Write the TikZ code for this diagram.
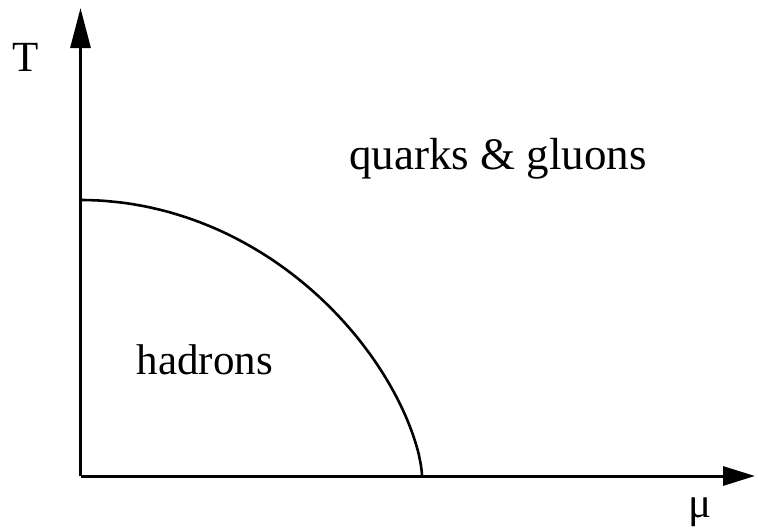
\documentclass[tikz,border=0pt]{standalone}
\usepackage{fontspec}
\setmainfont{Liberation Serif}
\usetikzlibrary{arrows.meta}
\begin{document}
\begin{tikzpicture}[x=1pt,y=-1pt,
  axis/.style={line width=3pt},
  boundary/.style={line width=2.6pt},
  lbl/.style={inner sep=0pt,anchor=base,font=\fontsize{43}{50}\selectfont}]
\useasboundingbox (0,0) rectangle (758,528);
\coordinate (O) at (80.5,476);
\coordinate (Ytip) at (80.5,8);
\coordinate (Xtip) at (755,476);
\coordinate (C0) at (80.5,200);
\coordinate (C1) at (422,476);
\draw[axis,-{Triangle[length=40pt,width=20pt]}] (O) -- (Ytip);
\draw[axis,-{Triangle[length=32pt,width=19pt]}] (O) -- (Xtip);
\draw[boundary] (C0) -- plot[domain=0:89.5,samples=150] ({80.5+341.5*sin(\x)},{476-276*(cos(\x))^1.29}) -- (C1);
\node[lbl] (T) at (26,71.7) {T};
\node[lbl] (mu) at (700,517) {μ};
\node[lbl,font=\fontsize{45}{52}\selectfont] (qg) at (498,169) {quarks \& gluons};
\node[lbl] (had) at (204.7,374) {hadrons};
\end{tikzpicture}
\end{document}
